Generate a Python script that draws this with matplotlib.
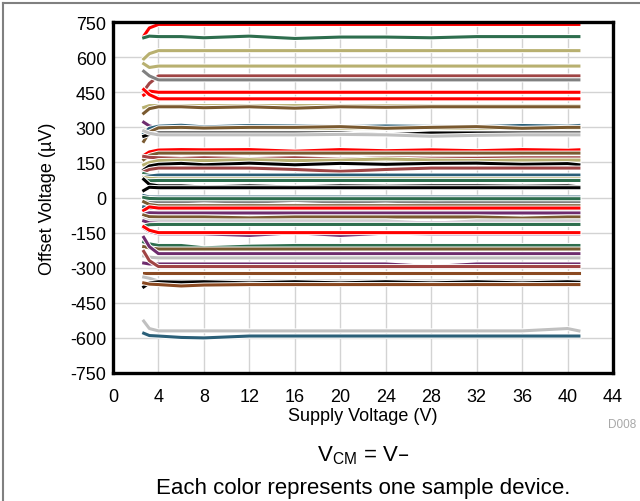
import matplotlib
matplotlib.use("Agg")
import matplotlib.pyplot as plt
import matplotlib.patheffects as pe
from matplotlib.lines import Line2D

plt.rcParams['font.family'] = ['Liberation Sans', 'DejaVu Sans']
plt.rcParams['axes.unicode_minus'] = False

# supply voltage sample points (V)
supply_v = [2.7, 3.2, 4, 6, 8, 12, 16, 20, 24, 28, 32, 36, 40, 41]

# colour of each sample device
RED, GRN, KHA, BRD, GRY = '#FF0000', '#2E6E4E', '#B8B070', '#A04444', '#808080'
BLK, TEA, BRN, PUR, LGR, SBR = '#000000', '#2A5F78', '#7A5A30', '#6E2C6E', '#C0C0C0', '#8B4A22'

device_colors = [RED, GRN, KHA, KHA, BRD, GRY, RED, RED, KHA, BRN,
                 PUR, KHA, TEA, BRN, BLK, LGR, RED, BRN, BRD, KHA,
                 BLK, BRD, GRN, TEA, KHA, GRN, BLK, BLK, TEA, GRY,
                 GRN, BRN, TEA, RED, PUR, BRN, LGR, PUR, GRN, PUR,
                 RED, GRN, BRN, PUR, LGR, PUR, BRD, SBR, LGR, BLK,
                 SBR, LGR, TEA]

# offset voltage per device (uV), one value per supply point
offset_uv = [
    [690, 725, 740, 740, 740, 740, 740, 740, 740, 740, 740, 740, 740, 740],
    [683, 690, 688, 688, 683, 690, 680, 686, 686, 683, 688, 688, 688, 688],
    [592, 615, 628, 628, 628, 628, 628, 628, 628, 628, 628, 628, 628, 628],
    [572, 556, 562, 562, 562, 562, 562, 562, 562, 562, 562, 562, 562, 562],
    [455, 488, 520, 520, 520, 520, 520, 520, 520, 520, 520, 520, 520, 520],
    [540, 520, 503, 503, 503, 503, 503, 503, 503, 503, 503, 503, 503, 503],
    [438, 455, 450, 450, 450, 450, 450, 450, 450, 450, 450, 450, 450, 450],
    [462, 440, 422, 422, 422, 422, 422, 422, 422, 422, 422, 422, 422, 422],
    [385, 393, 393, 393, 393, 393, 393, 393, 393, 393, 393, 393, 393, 393],
    [360, 380, 388, 388, 384, 388, 382, 388, 386, 388, 388, 388, 388, 388],
    [322, 306, 298, 298, 298, 298, 298, 298, 298, 298, 298, 298, 298, 298],
    [288, 294, 295, 295, 295, 295, 295, 295, 295, 295, 295, 295, 295, 295],
    [275, 296, 305, 309, 302, 308, 306, 303, 306, 304, 303, 308, 305, 308],
    [240, 280, 298, 300, 297, 300, 300, 303, 296, 300, 303, 296, 300, 300],
    [262, 270, 276, 276, 276, 276, 276, 276, 268, 276, 276, 276, 276, 276],
    [285, 275, 268, 268, 268, 268, 268, 270, 268, 262, 266, 268, 268, 268],
    [180, 195, 203, 205, 204, 205, 198, 205, 200, 204, 200, 205, 202, 204],
    [162, 180, 190, 190, 190, 190, 190, 190, 190, 190, 190, 190, 190, 190],
    [176, 172, 170, 167, 170, 166, 170, 164, 170, 168, 168, 170, 170, 170],
    [140, 150, 158, 160, 158, 162, 158, 160, 165, 160, 158, 160, 160, 160],
    [118, 135, 142, 146, 140, 147, 140, 146, 142, 146, 147, 142, 145, 140],
    [110, 120, 126, 126, 126, 126, 120, 112, 120, 126, 126, 126, 126, 126],
    [102, 95, 92, 92, 92, 92, 92, 92, 92, 92, 92, 92, 92, 92],
    [90, 92, 96, 96, 96, 96, 96, 96, 96, 96, 96, 96, 96, 96],
    [86, 82, 80, 80, 80, 80, 80, 80, 80, 80, 80, 80, 80, 80],
    [76, 72, 73, 73, 73, 73, 73, 73, 73, 73, 73, 73, 73, 73],
    [78, 56, 50, 50, 45, 50, 45, 50, 48, 50, 50, 48, 50, 46],
    [30, 44, 42, 42, 42, 42, 42, 42, 42, 42, 42, 42, 42, 42],
    [8, 2, 2, 2, 2, 2, 2, 2, 2, 2, 2, 2, 2, 2],
    [-10, -15, -18, -18, -14, -20, -12, -20, -15, -22, -20, -20, -18, -18],
    [0, -4, -5, -5, -5, -5, -5, -5, -5, -5, -5, -5, -5, -5],
    [-18, -30, -35, -35, -35, -35, -35, -35, -35, -35, -35, -35, -35, -35],
    [-40, -45, -48, -48, -48, -48, -48, -48, -48, -48, -48, -48, -48, -48],
    [-55, -40, -45, -45, -45, -45, -45, -45, -45, -45, -45, -45, -45, -45],
    [-72, -65, -66, -66, -66, -66, -66, -66, -66, -66, -66, -66, -66, -66],
    [-75, -82, -83, -83, -83, -87, -83, -83, -83, -83, -83, -88, -83, -83],
    [-92, -100, -100, -100, -100, -100, -100, -100, -100, -110, -100, -100, -100, -100],
    [-100, -108, -110, -110, -110, -110, -110, -110, -110, -110, -110, -110, -110, -110],
    [-122, -116, -115, -115, -115, -115, -115, -115, -115, -115, -115, -115, -115, -115],
    [-130, -145, -155, -155, -155, -162, -150, -162, -152, -155, -155, -155, -155, -155],
    [-125, -140, -150, -150, -150, -150, -150, -150, -150, -150, -150, -150, -150, -150],
    [-190, -198, -205, -205, -215, -208, -205, -205, -205, -205, -205, -205, -205, -205],
    [-210, -215, -220, -220, -220, -220, -220, -220, -220, -220, -220, -220, -220, -220],
    [-170, -210, -240, -240, -240, -240, -240, -240, -240, -240, -240, -240, -240, -240],
    [-250, -255, -258, -258, -258, -258, -258, -258, -258, -258, -258, -258, -258, -258],
    [-280, -284, -284, -284, -284, -284, -284, -284, -284, -295, -284, -284, -284, -284],
    [-230, -270, -295, -295, -295, -295, -295, -295, -295, -295, -295, -295, -295, -295],
    [-323, -323, -323, -323, -323, -323, -323, -323, -323, -323, -323, -323, -323, -323],
    [-340, -345, -357, -357, -357, -357, -357, -357, -357, -357, -357, -357, -357, -357],
    [-382, -365, -360, -362, -360, -365, -360, -365, -360, -365, -360, -365, -360, -362],
    [-365, -370, -372, -378, -374, -372, -372, -372, -372, -372, -372, -372, -372, -372],
    [-528, -560, -570, -570, -570, -570, -570, -570, -570, -570, -570, -570, -560, -570],
    [-580, -590, -592, -598, -600, -592, -592, -592, -592, -592, -592, -592, -592, -592],
]

x_ticks = list(range(0, 45, 4))
y_ticks = list(range(-750, 751, 150))

fig = plt.figure(figsize=(6.4, 5.02), dpi=100)
ax = fig.add_axes([0.1766, 0.255, 0.7812, 0.699])

halo = [pe.Stroke(linewidth=3.6, foreground='white'), pe.Normal()]
for col, vals in zip(device_colors, offset_uv):
    ax.plot(supply_v, vals, color=col, lw=2.2, path_effects=halo, solid_joinstyle='round')

ax.set_xlim(0, 44)
ax.set_ylim(-750, 750)
ax.set_xticks(x_ticks)
ax.set_yticks(y_ticks)
ax.grid(True, color='#D3D3D3', lw=1)
ax.set_axisbelow(True)
ax.tick_params(length=0, labelsize=13)
ax.tick_params(axis='x', pad=11)
ax.tick_params(axis='y', pad=5)
for s in ax.spines.values():
    s.set_linewidth(2.4)
    s.set_color('black')

ax.set_xlabel('Supply Voltage (V)', fontsize=13)
ax.set_ylabel('Offset Voltage (µV)', fontsize=13)
ax.xaxis.set_label_coords(0.5, -0.097)
ax.yaxis.set_label_coords(-0.114, 0.5)

fig.text(0.972, 0.153, 'D008', fontsize=8.5, color='#A8A8A8', ha='center', va='center')
fig.text(0.567, 0.080, r'V$_{\mathregular{CM}}$ = V–', fontsize=16, ha='center', va='baseline')
fig.text(0.567, 0.016, 'Each color represents one sample device.', fontsize=16,
         ha='center', va='baseline')

# thin frame on top and left like the source figure
fig.add_artist(Line2D([0.005, 0.005], [0, 0.992], transform=fig.transFigure, color='#808080', lw=1.5))
fig.add_artist(Line2D([0.005, 1], [0.992, 0.992], transform=fig.transFigure, color='#808080', lw=1.5))

fig.savefig('out.png', dpi=100)
